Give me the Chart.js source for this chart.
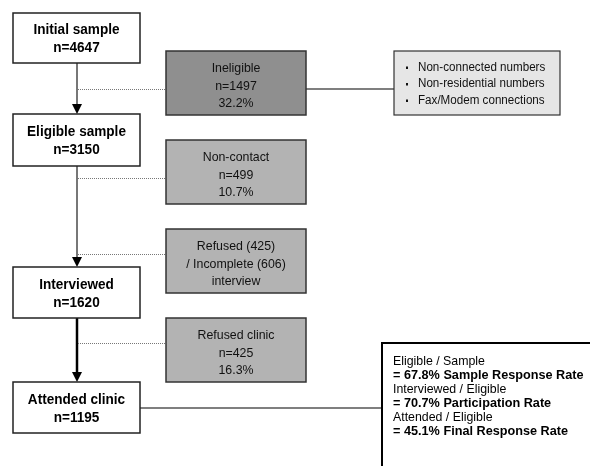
<!DOCTYPE html>
<html>
<head>
<meta charset="utf-8">
<script src="https://cdn.jsdelivr.net/npm/chart.js@4/dist/chart.umd.min.js"></script>
<style>
  body { margin: 0; background: #fff; }
  #wrap { width: 590px; height: 466px; position: relative; }
</style>
</head>
<body>
<div id="wrap"><canvas id="flow"></canvas></div>
<script>
// Flow data: main sample stages
const stageNames = ["Initial sample", "Eligible sample", "Interviewed", "Attended clinic"];
const stageCounts = [4647, 3150, 1620, 1195];

// Losses between stages
const lossNames = ["Ineligible", "Non-contact", "Refused (425)", "Refused clinic"];
const lossExtra = [null, null, "/ Incomplete (606)", null];
const lossCounts = [1497, 499, null, 425];
const lossPercents = ["32.2%", "10.7%", null, "16.3%"];
const lossTail = [null, null, "interview", null];

// Reasons for ineligibility
const ineligibleReasons = ["Non-connected numbers", "Non-residential numbers", "Fax/Modem connections"];

// Response rate summary
const rateLabels = ["Eligible / Sample", "Interviewed / Eligible", "Attended / Eligible"];
const rateValues = ["67.8%", "70.7%", "45.1%"];
const rateNames = ["Sample Response Rate", "Participation Rate", "Final Response Rate"];

// layout (axis units, 0..590 by 0..466)
const layout = {
  stageX: [13, 140],
  stageY: [[13, 63], [114, 166], [267, 318], [382, 433]],
  spineX: 77,
  lossX: [166, 306],
  lossY: [[51, 115], [140, 204], [229, 293], [318, 382]],
  lossLinkY: [89, 178, 254, 343],
  reasonBox: [394, 51, 560, 115],
  rateBox: [382, 343, 600, 480],
  rateLinkY: 408
};

const FONT = "'Liberation Sans', Arial, sans-serif";
const lossFill = ["#8f8f8f", "#b3b3b3", "#b3b3b3", "#b3b3b3"];

// draw text squeezed horizontally (the original uses a slightly narrow face)
function narrowText(ctx, text, x, y, squeeze) {
  ctx.save();
  ctx.translate(x, y);
  ctx.scale(squeeze, 1);
  ctx.fillText(text, 0, 0);
  ctx.restore();
}

const flowPlugin = {
  id: "flow",
  afterDraw(chart) {
    const ctx = chart.ctx;
    const sx = chart.scales.x, sy = chart.scales.y;
    const X = (v) => sx.getPixelForValue(v);
    const Y = (v) => sy.getPixelForValue(v);
    const L = layout;
    ctx.save();

    // spine between stages
    for (let i = 0; i < stageNames.length - 1; i++) {
      const y0 = Y(L.stageY[i][1]);
      const y1 = Y(L.stageY[i + 1][0]);
      const last = i === stageNames.length - 2;
      ctx.strokeStyle = last ? "#000" : "#555";
      ctx.lineWidth = last ? 2.5 : 1.6;
      ctx.beginPath();
      ctx.moveTo(X(L.spineX), y0);
      ctx.lineTo(X(L.spineX), y1 - 8);
      ctx.stroke();
      // arrow head
      ctx.fillStyle = "#000";
      ctx.beginPath();
      ctx.moveTo(X(L.spineX) - 5, y1 - 10);
      ctx.lineTo(X(L.spineX) + 5, y1 - 10);
      ctx.lineTo(X(L.spineX), y1);
      ctx.closePath();
      ctx.fill();
    }

    // dotted links to loss boxes
    ctx.strokeStyle = "#777";
    ctx.lineWidth = 1;
    ctx.setLineDash([1, 1]);
    L.lossLinkY.forEach((ly) => {
      ctx.beginPath();
      ctx.moveTo(X(L.spineX) + 1, Y(ly) + 0.5);
      ctx.lineTo(X(L.lossX[0]), Y(ly) + 0.5);
      ctx.stroke();
    });
    ctx.setLineDash([]);

    // solid links to side boxes
    ctx.strokeStyle = "#000";
    ctx.lineWidth = 1.2;
    ctx.beginPath();
    ctx.moveTo(X(L.lossX[1]), Y(L.lossLinkY[0]));
    ctx.lineTo(X(L.reasonBox[0]), Y(L.lossLinkY[0]));
    ctx.moveTo(X(L.stageX[1]), Y(L.rateLinkY));
    ctx.lineTo(X(L.rateBox[0]), Y(L.rateLinkY));
    ctx.stroke();

    ctx.textAlign = "center";
    ctx.textBaseline = "alphabetic";

    // stage boxes
    stageNames.forEach((name, i) => {
      const x0 = X(L.stageX[0]), x1 = X(L.stageX[1]);
      const y0 = Y(L.stageY[i][0]), y1 = Y(L.stageY[i][1]);
      ctx.fillStyle = "#fff";
      ctx.fillRect(x0, y0, x1 - x0, y1 - y0);
      ctx.strokeStyle = "#222";
      ctx.lineWidth = 1.5;
      ctx.strokeRect(x0, y0, x1 - x0, y1 - y0);
      const cx = (x0 + x1) / 2, cy = (y0 + y1) / 2;
      ctx.fillStyle = "#000";
      ctx.font = "bold 14px " + FONT;
      narrowText(ctx, name, cx, cy - 4, 0.97);
      narrowText(ctx, "n=" + stageCounts[i], cx, cy + 14, 0.97);
    });

    // loss boxes
    lossNames.forEach((name, i) => {
      const x0 = X(L.lossX[0]), x1 = X(L.lossX[1]);
      const y0 = Y(L.lossY[i][0]), y1 = Y(L.lossY[i][1]);
      ctx.fillStyle = lossFill[i];
      ctx.fillRect(x0, y0, x1 - x0, y1 - y0);
      ctx.strokeStyle = "#333";
      ctx.lineWidth = 1.5;
      ctx.strokeRect(x0, y0, x1 - x0, y1 - y0);
      const lines = [name];
      if (lossExtra[i]) lines.push(lossExtra[i]);
      if (lossCounts[i] != null) lines.push("n=" + lossCounts[i]);
      if (lossPercents[i]) lines.push(lossPercents[i]);
      if (lossTail[i]) lines.push(lossTail[i]);
      const cx = (x0 + x1) / 2, cy = (y0 + y1) / 2;
      ctx.fillStyle = "#111";
      ctx.font = "13px " + FONT;
      lines.forEach((t, k) => narrowText(ctx, t, cx, cy - 11 + k * 17.5, 0.95));
    });

    // reasons box
    {
      const [a, b, c, d] = L.reasonBox;
      const x0 = X(a), y0 = Y(b), x1 = X(c), y1 = Y(d);
      ctx.fillStyle = "#e6e6e6";
      ctx.fillRect(x0, y0, x1 - x0, y1 - y0);
      ctx.strokeStyle = "#333";
      ctx.lineWidth = 1.2;
      ctx.strokeRect(x0, y0, x1 - x0, y1 - y0);
      const cy = (y0 + y1) / 2;
      ctx.textAlign = "left";
      ctx.font = "12.5px " + FONT;
      ineligibleReasons.forEach((t, k) => {
        const by = cy - 12.5 + k * 16.5;
        ctx.fillStyle = "#111";
        ctx.fillRect(x0 + 12, by - 4, 2, 2.5);
        narrowText(ctx, t, x0 + 24, by, 0.93);
      });
    }

    // response rate box
    {
      const [a, b, c, d] = L.rateBox;
      const x0 = X(a), y0 = Y(b), x1 = X(c), y1 = Y(d);
      ctx.fillStyle = "#fff";
      ctx.fillRect(x0, y0, x1 - x0, y1 - y0);
      ctx.strokeStyle = "#000";
      ctx.lineWidth = 2;
      ctx.strokeRect(x0, y0, x1 - x0, y1 - y0);
      ctx.textAlign = "left";
      ctx.fillStyle = "#000";
      let by = y0 + 22;
      rateLabels.forEach((lab, k) => {
        ctx.font = "13px " + FONT;
        narrowText(ctx, lab, x0 + 11, by, 0.95);
        by += 14;
        ctx.font = "bold 13px " + FONT;
        narrowText(ctx, "= " + rateValues[k] + " " + rateNames[k], x0 + 11, by, 0.975);
        by += 14;
      });
    }

    ctx.restore();
  }
};

const chart = new Chart(document.getElementById("flow").getContext("2d"), {
  type: "scatter",
  data: { datasets: [] },
  options: {
    responsive: true,
    maintainAspectRatio: false,
    animation: false,
    layout: { padding: 0 },
    plugins: { legend: { display: false }, tooltip: { enabled: false } },
    scales: {
      x: { type: "linear", min: 0, max: 590, display: false },
      y: { type: "linear", min: 0, max: 466, reverse: true, display: false }
    }
  },
  plugins: [flowPlugin]
});
</script>
</body>
</html>
